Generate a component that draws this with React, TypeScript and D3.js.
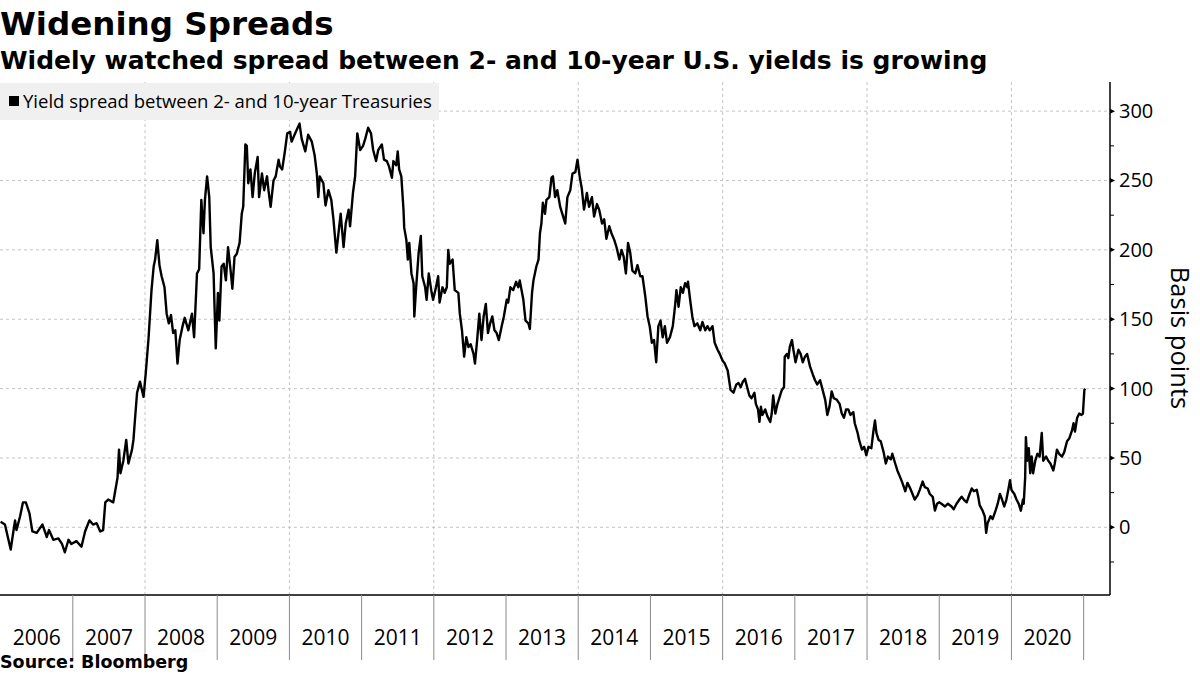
import React from 'react';
import * as d3 from 'd3';

const title = 'Widening Spreads';
const subtitle = 'Widely watched spread between 2- and 10-year U.S. yields is growing';
const legendLabel = 'Yield spread between 2- and 10-year Treasuries';
const yAxisTitle = 'Basis points';
const sourceText = 'Source: Bloomberg';

const yearLabels = [2006, 2007, 2008, 2009, 2010, 2011, 2012, 2013, 2014, 2015, 2016, 2017, 2018, 2019, 2020];
const yearSeparators = [2007, 2008, 2009, 2010, 2011, 2012, 2013, 2014, 2015, 2016, 2017, 2018, 2019, 2020, 2021];
const xGridYears = [2008, 2010, 2012, 2014, 2016, 2018, 2020];
const yMajorTicks = [0, 50, 100, 150, 200, 250, 300];
const yMinorTicks = [-25, 25, 75, 125, 175, 225, 275];

// [decimal year, basis points]
const s2006: [number, number][] = [[2006.00,4],[2006.06,2],[2006.14,-16],[2006.20,5],[2006.22,-2],[2006.27,8],[2006.31,18],[2006.35,18],[2006.40,10],[2006.44,-3],[2006.50,-4],[2006.58,2],[2006.64,-7],[2006.67,-2],[2006.73,-9],[2006.80,-8],[2006.85,-12],[2006.89,-18],[2006.94,-9],[2006.98,-12]];
const s2007: [number, number][] = [[2007.05,-10],[2007.12,-14],[2007.17,-3],[2007.23,5],[2007.28,2],[2007.33,3],[2007.38,-3],[2007.42,-2],[2007.45,18],[2007.49,20],[2007.56,18],[2007.58,24],[2007.62,36],[2007.64,56],[2007.66,39],[2007.70,48],[2007.74,63],[2007.77,46],[2007.82,56],[2007.84,63],[2007.86,77],[2007.89,97],[2007.93,105],[2007.98,94]];
const s2008: [number, number][] = [[2008.01,111],[2008.05,137],[2008.07,154],[2008.09,171],[2008.12,188],[2008.14,193],[2008.17,207],[2008.20,189],[2008.23,181],[2008.27,173],[2008.30,154],[2008.33,147],[2008.36,153],[2008.39,140],[2008.42,142],[2008.45,118],[2008.48,135],[2008.52,145],[2008.55,151],[2008.60,142],[2008.65,154],[2008.68,137],[2008.72,183],[2008.75,186],[2008.78,236],[2008.81,212],[2008.83,236],[2008.86,253],[2008.89,238],[2008.91,202],[2008.95,183],[2008.96,164],[2008.98,129]];
const s2009: [number, number][] = [[2009.01,169],[2009.03,149],[2009.06,188],[2009.09,190],[2009.12,178],[2009.15,202],[2009.19,183],[2009.21,172],[2009.24,195],[2009.27,197],[2009.31,205],[2009.34,226],[2009.36,231],[2009.39,276],[2009.41,275],[2009.43,248],[2009.46,258],[2009.49,238],[2009.52,255],[2009.56,267],[2009.58,238],[2009.62,255],[2009.65,243],[2009.69,253],[2009.71,243],[2009.74,231],[2009.78,250],[2009.81,253],[2009.85,265],[2009.87,260],[2009.90,258],[2009.94,272],[2009.97,284]];
const s2010: [number, number][] = [[2010.01,285],[2010.03,278],[2010.08,284],[2010.14,291],[2010.17,280],[2010.22,271],[2010.26,283],[2010.31,278],[2010.35,268],[2010.38,255],[2010.40,238],[2010.42,253],[2010.47,248],[2010.50,232],[2010.54,243],[2010.58,236],[2010.61,222],[2010.63,210],[2010.65,198],[2010.69,217],[2010.71,226],[2010.75,202],[2010.78,219],[2010.82,229],[2010.84,217],[2010.88,241],[2010.91,253],[2010.94,284],[2010.98,272]];
const s2011: [number, number][] = [[2011.02,275],[2011.05,280],[2011.09,288],[2011.13,284],[2011.16,272],[2011.20,264],[2011.23,272],[2011.28,276],[2011.31,265],[2011.35,264],[2011.38,260],[2011.42,252],[2011.44,264],[2011.48,261],[2011.50,271],[2011.52,258],[2011.55,253],[2011.58,229],[2011.59,216],[2011.62,207],[2011.64,193],[2011.66,205],[2011.69,183],[2011.72,176],[2011.73,152],[2011.75,169],[2011.79,198],[2011.82,210],[2011.84,181],[2011.88,173],[2011.90,164],[2011.93,183],[2011.97,169],[2011.99,164]];
const s2012: [number, number][] = [[2012.03,173],[2012.06,181],[2012.08,162],[2012.12,173],[2012.15,169],[2012.18,173],[2012.20,200],[2012.22,190],[2012.26,193],[2012.29,171],[2012.34,169],[2012.36,154],[2012.39,142],[2012.42,123],[2012.45,137],[2012.48,130],[2012.51,132],[2012.55,125],[2012.57,118],[2012.60,135],[2012.63,154],[2012.66,135],[2012.69,152],[2012.72,161],[2012.75,140],[2012.78,147],[2012.81,152],[2012.84,142],[2012.87,140],[2012.90,135],[2012.94,145],[2012.97,152]];
const s2013: [number, number][] = [[2013.01,164],[2013.03,162],[2013.06,173],[2013.10,171],[2013.14,177],[2013.17,173],[2013.19,178],[2013.24,164],[2013.27,149],[2013.31,147],[2013.33,143],[2013.36,169],[2013.38,178],[2013.42,188],[2013.45,193],[2013.47,212],[2013.49,219],[2013.51,234],[2013.54,226],[2013.56,236],[2013.60,238],[2013.63,252],[2013.65,253],[2013.68,238],[2013.71,243],[2013.75,231],[2013.78,226],[2013.82,219],[2013.85,238],[2013.89,243],[2013.92,255],[2013.96,256],[2013.99,265]];
const s2014: [number, number][] = [[2014.02,253],[2014.05,244],[2014.08,229],[2014.12,241],[2014.15,231],[2014.19,238],[2014.22,224],[2014.26,233],[2014.29,229],[2014.33,219],[2014.36,222],[2014.39,208],[2014.43,217],[2014.46,212],[2014.50,207],[2014.53,202],[2014.57,193],[2014.60,200],[2014.63,195],[2014.66,183],[2014.69,205],[2014.72,198],[2014.75,185],[2014.79,183],[2014.82,189],[2014.86,181],[2014.89,181],[2014.93,166],[2014.96,152],[2014.99,145]];
const s2015: [number, number][] = [[2015.02,133],[2015.05,135],[2015.08,119],[2015.11,145],[2015.14,149],[2015.17,137],[2015.20,145],[2015.23,133],[2015.27,137],[2015.31,145],[2015.34,159],[2015.36,171],[2015.39,159],[2015.42,173],[2015.45,169],[2015.48,176],[2015.51,173],[2015.52,177],[2015.55,164],[2015.58,152],[2015.61,145],[2015.65,147],[2015.69,142],[2015.72,148],[2015.76,142],[2015.79,145],[2015.82,142],[2015.86,145],[2015.89,133],[2015.93,128],[2015.96,125]];
const s2016: [number, number][] = [[2016.00,120],[2016.03,118],[2016.07,113],[2016.09,106],[2016.11,99],[2016.15,97],[2016.19,103],[2016.22,104],[2016.25,101],[2016.28,105],[2016.31,107],[2016.34,101],[2016.37,95],[2016.40,93],[2016.44,97],[2016.46,89],[2016.49,85],[2016.51,76],[2016.53,87],[2016.55,81],[2016.59,85],[2016.62,80],[2016.66,76],[2016.68,82],[2016.70,95],[2016.73,82],[2016.76,89],[2016.79,94],[2016.82,99],[2016.85,101],[2016.86,123],[2016.89,125],[2016.91,122],[2016.93,130],[2016.96,135],[2016.98,128]];
const s2017: [number, number][] = [[2017.01,119],[2017.05,128],[2017.08,125],[2017.11,119],[2017.14,123],[2017.17,125],[2017.21,116],[2017.25,110],[2017.28,106],[2017.31,103],[2017.35,106],[2017.39,98],[2017.42,92],[2017.45,81],[2017.48,87],[2017.51,98],[2017.54,93],[2017.58,92],[2017.62,89],[2017.65,82],[2017.68,79],[2017.71,85],[2017.74,85],[2017.77,81],[2017.81,83],[2017.83,75],[2017.87,68],[2017.89,63],[2017.93,56],[2017.96,58],[2017.99,52]];
const s2018: [number, number][] = [[2018.02,58],[2018.06,57],[2018.09,70],[2018.11,77],[2018.13,68],[2018.16,63],[2018.19,62],[2018.23,54],[2018.26,46],[2018.29,51],[2018.33,49],[2018.35,53],[2018.39,46],[2018.42,41],[2018.46,36],[2018.49,32],[2018.53,26],[2018.56,32],[2018.59,29],[2018.63,24],[2018.66,20],[2018.70,23],[2018.73,27],[2018.77,33],[2018.80,29],[2018.84,28],[2018.87,24],[2018.91,22],[2018.94,12],[2018.97,17]];
const s2019: [number, number][] = [[2019.00,18],[2019.03,17],[2019.08,15],[2019.12,17],[2019.17,15],[2019.20,13],[2019.24,17],[2019.28,20],[2019.31,22],[2019.34,20],[2019.38,18],[2019.42,24],[2019.45,28],[2019.48,26],[2019.52,27],[2019.54,22],[2019.56,16],[2019.60,12],[2019.63,8],[2019.65,-4],[2019.67,3],[2019.71,8],[2019.74,6],[2019.78,12],[2019.81,17],[2019.84,24],[2019.87,20],[2019.90,15],[2019.93,20],[2019.96,28],[2019.98,34]];
const s2020: [number, number][] = [[2020.00,27],[2020.04,24],[2020.07,20],[2020.10,17],[2020.13,12],[2020.16,20],[2020.17,17],[2020.19,36],[2020.20,65],[2020.22,48],[2020.24,57],[2020.26,39],[2020.28,51],[2020.30,39],[2020.33,48],[2020.36,53],[2020.39,51],[2020.42,68],[2020.44,48],[2020.48,51],[2020.51,48],[2020.54,46],[2020.58,41],[2020.60,46],[2020.63,56],[2020.66,53],[2020.70,51],[2020.73,54],[2020.77,62],[2020.80,64],[2020.84,70],[2020.86,75],[2020.88,69],[2020.91,79],[2020.94,82],[2020.97,81],[2020.99,82]];
const s2021: [number, number][] = [[2021.01,99],[2021.02,100]];

const series = [...s2006, ...s2007, ...s2008, ...s2009, ...s2010, ...s2011, ...s2012, ...s2013, ...s2014, ...s2015, ...s2016, ...s2017, ...s2018, ...s2019, ...s2020, ...s2021];

const W = 1200;
const H = 675;
const plotLeft = 0;
const plotRight = 1110;
const plotTop = 82;
const plotBottom = 595;

const labelFont = '"Open Sans", "Noto Sans", sans-serif';
const titleFont = '"DejaVu Sans", sans-serif';

export default function App() {
  const x = d3.scaleLinear().domain([2006, 2021.365]).range([plotLeft + 0.6, plotRight]);
  const y = d3.scaleLinear().domain([-48.8, 321]).range([plotBottom, plotTop]);
  const line = d3
    .line<[number, number]>()
    .x((d) => x(d[0]))
    .y((d) => y(d[1]))
    .curve(d3.curveLinear);

  return (
    <svg
      width={W}
      height={H}
      viewBox={`0 0 ${W} ${H}`}
      style={{ position: 'absolute', left: 0, top: 0, background: '#fff' }}
    >
      <rect x={0} y={0} width={W} height={H} fill="#fff" />
      {/* Titles */}
      <text x={0} y={35} fontFamily={titleFont} fontWeight="bold" fontSize={32.5} fill="#000">
        {title}
      </text>
      <text x={0} y={69} fontFamily={titleFont} fontWeight="bold" fontSize={25} fill="#000">
        {subtitle}
      </text>

      {/* Horizontal grid */}
      {yMajorTicks.map((t) => (
        <line
          key={'hg' + t}
          x1={plotLeft}
          x2={plotRight}
          y1={y(t)}
          y2={y(t)}
          stroke="#c4c4c4"
          strokeWidth={1}
          strokeDasharray="3,3"
        />
      ))}
      {/* Vertical grid */}
      {xGridYears.map((yr) => (
        <line
          key={'vg' + yr}
          x1={x(yr)}
          x2={x(yr)}
          y1={plotTop}
          y2={plotBottom}
          stroke="#c4c4c4"
          strokeWidth={1}
          strokeDasharray="3,3"
        />
      ))}

      {/* Legend */}
      <rect x={0} y={83} width={439} height={37} fill="#f0f0f0" />
      <rect x={9} y={96} width={10} height={10} fill="#000" />
      <text x={23} y={108} fontFamily={labelFont} fontSize={18.5} fill="#000">
        {legendLabel}
      </text>

      {/* Data line */}
      <path d={line(series) || ''} fill="none" stroke="#000" strokeWidth={2.4} strokeLinejoin="round" />

      {/* X axis */}
      <line x1={plotLeft} x2={plotRight} y1={plotBottom} y2={plotBottom} stroke="#000" strokeWidth={1.5} />
      {yearSeparators.map((yr) => (
        <line
          key={'sep' + yr}
          x1={x(yr)}
          x2={x(yr)}
          y1={plotBottom}
          y2={660}
          stroke="#8a8a8a"
          strokeWidth={1}
        />
      ))}
      {yearLabels.map((yr) => (
        <text
          key={'yl' + yr}
          x={(x(yr) + x(yr + 1)) / 2}
          y={645}
          textAnchor="middle"
          fontFamily={labelFont}
          fontSize={21}
          fill="#000"
        >
          {yr}
        </text>
      ))}

      {/* Y axis */}
      <line x1={plotRight} x2={plotRight} y1={plotTop} y2={plotBottom} stroke="#000" strokeWidth={1.5} />
      {yMinorTicks.map((t) => (
        <line key={'mt' + t} x1={plotRight} x2={plotRight + 4} y1={y(t)} y2={y(t)} stroke="#000" strokeWidth={1} />
      ))}
      {yMajorTicks.map((t) => (
        <g key={'yt' + t}>
          <path
            d={`M${plotRight},${y(t) - 2.5} L${plotRight + 5},${y(t)} L${plotRight},${y(t) + 2.5} Z`}
            fill="#000"
          />
          <text
            x={plotRight + 9}
            y={y(t)}
            dy="0.35em"
            fontFamily={labelFont}
            fontSize={20}
            fill="#000"
          >
            {t}
          </text>
        </g>
      ))}
      <text
        transform={`translate(1171, 338) rotate(90)`}
        textAnchor="middle"
        fontFamily={labelFont}
        fontSize={25.5}
        fill="#000"
      >
        {yAxisTitle}
      </text>

      {/* Source */}
      <text x={0} y={668} fontFamily={titleFont} fontWeight="bold" fontSize={17.5} fill="#000">
        {sourceText}
      </text>
    </svg>
  );
}
